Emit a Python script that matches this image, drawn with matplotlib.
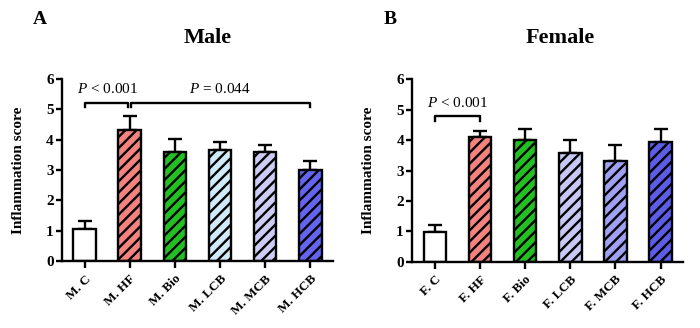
import matplotlib
matplotlib.use("Agg")
import matplotlib.pyplot as plt
import numpy as np

plt.rcParams["font.family"] = ["Liberation Serif", "DejaVu Serif"]
plt.rcParams["mathtext.fontset"] = "custom"
plt.rcParams["mathtext.rm"] = "Liberation Serif"
plt.rcParams["mathtext.it"] = "Liberation Serif:italic"
plt.rcParams["hatch.linewidth"] = 1.7
plt.rcParams["hatch.color"] = "black"

# ── 데이터 ──────────────────────────────────────────────
male_groups = ["M. C", "M. HF", "M. Bio", "M. LCB", "M. MCB", "M. HCB"]
male_mean = [1.07, 4.33, 3.58, 3.65, 3.59, 3.00]
male_sem = [0.25, 0.45, 0.44, 0.26, 0.24, 0.30]

female_groups = ["F. C", "F. HF", "F. Bio", "F. LCB", "F. MCB", "F. HCB"]
female_mean = [0.99, 4.09, 4.00, 3.57, 3.32, 3.93]
female_sem = [0.22, 0.21, 0.38, 0.45, 0.52, 0.45]

male_colors = ["#FFFFFF", "#F4827E", "#22C022", "#D0EAF8", "#CCCCF4", "#6464F0"]
female_colors = ["#FFFFFF", "#F4827E", "#22C022", "#C8C8F4", "#A0A0F4", "#5C5CE8"]

LW = 1.7


def draw_panel(ax, groups, means, sems, colors):
    x = np.arange(len(groups))
    for i in range(len(groups)):
        ax.bar(x[i], means[i], width=0.5, color=colors[i], edgecolor="black",
               linewidth=LW, hatch="" if i == 0 else "///", zorder=2)
    ax.errorbar(x, means, yerr=[np.zeros(len(sems)), sems], fmt="none",
                ecolor="black", elinewidth=LW, capsize=5, capthick=LW, zorder=1)
    ax.set_xlim(-0.5, 5.5)
    ax.set_ylim(0, 6)
    ax.set_yticks(range(7))
    ax.set_xticks(x)
    ax.set_xticklabels(groups, rotation=45, ha="right", rotation_mode="anchor",
                       fontsize=9.5, fontweight="bold")
    ax.tick_params(axis="y", labelsize=11, width=LW, length=4, pad=2)
    ax.tick_params(axis="x", width=LW, length=5)
    for lab in ax.get_yticklabels():
        lab.set_fontweight("bold")
    ax.spines[["top", "right"]].set_visible(False)
    ax.spines[["left", "bottom"]].set_linewidth(LW)
    ax.set_ylabel("Inflammation score", fontsize=11, fontweight="bold", labelpad=15)


def bracket(ax, x0, x1, y, drop, text=None, ty=None, tx=None):
    ax.plot([x0, x0, x1, x1], [y - drop, y, y, y - drop], color="black",
            lw=LW, clip_on=False)
    if text is not None:
        ax.text(tx if tx is not None else (x0 + x1) / 2, ty, text,
                ha="center", va="center", fontsize=11, fontweight="normal")


fig = plt.figure(figsize=(7, 3.28), dpi=100)
ax1 = fig.add_axes([0.0886, 0.204, 0.387, 0.555])
ax2 = fig.add_axes([0.589, 0.202, 0.387, 0.556])

draw_panel(ax1, male_groups, male_mean, male_sem, male_colors)
draw_panel(ax2, female_groups, female_mean, female_sem, female_colors)

bracket(ax1, 0, 0.97, 5.22, 0.14, r"$P$ < 0.001", 5.68, 0.5)
bracket(ax1, 1.03, 5.0, 5.22, 0.14, r"$P$ = 0.044", 5.68, 3.0)
bracket(ax2, 0, 1.0, 4.79, 0.15, r"$P$ < 0.001", 5.22)

fig.text(0.297, 0.885, "Male", ha="center", va="center", fontsize=16, fontweight="bold")
fig.text(0.8, 0.885, "Female", ha="center", va="center", fontsize=16, fontweight="bold")
fig.text(0.057, 0.942, "A", ha="center", va="center", fontsize=14, fontweight="bold")
fig.text(0.557, 0.942, "B", ha="center", va="center", fontsize=14, fontweight="bold")

fig.savefig("out.png", dpi=100)
